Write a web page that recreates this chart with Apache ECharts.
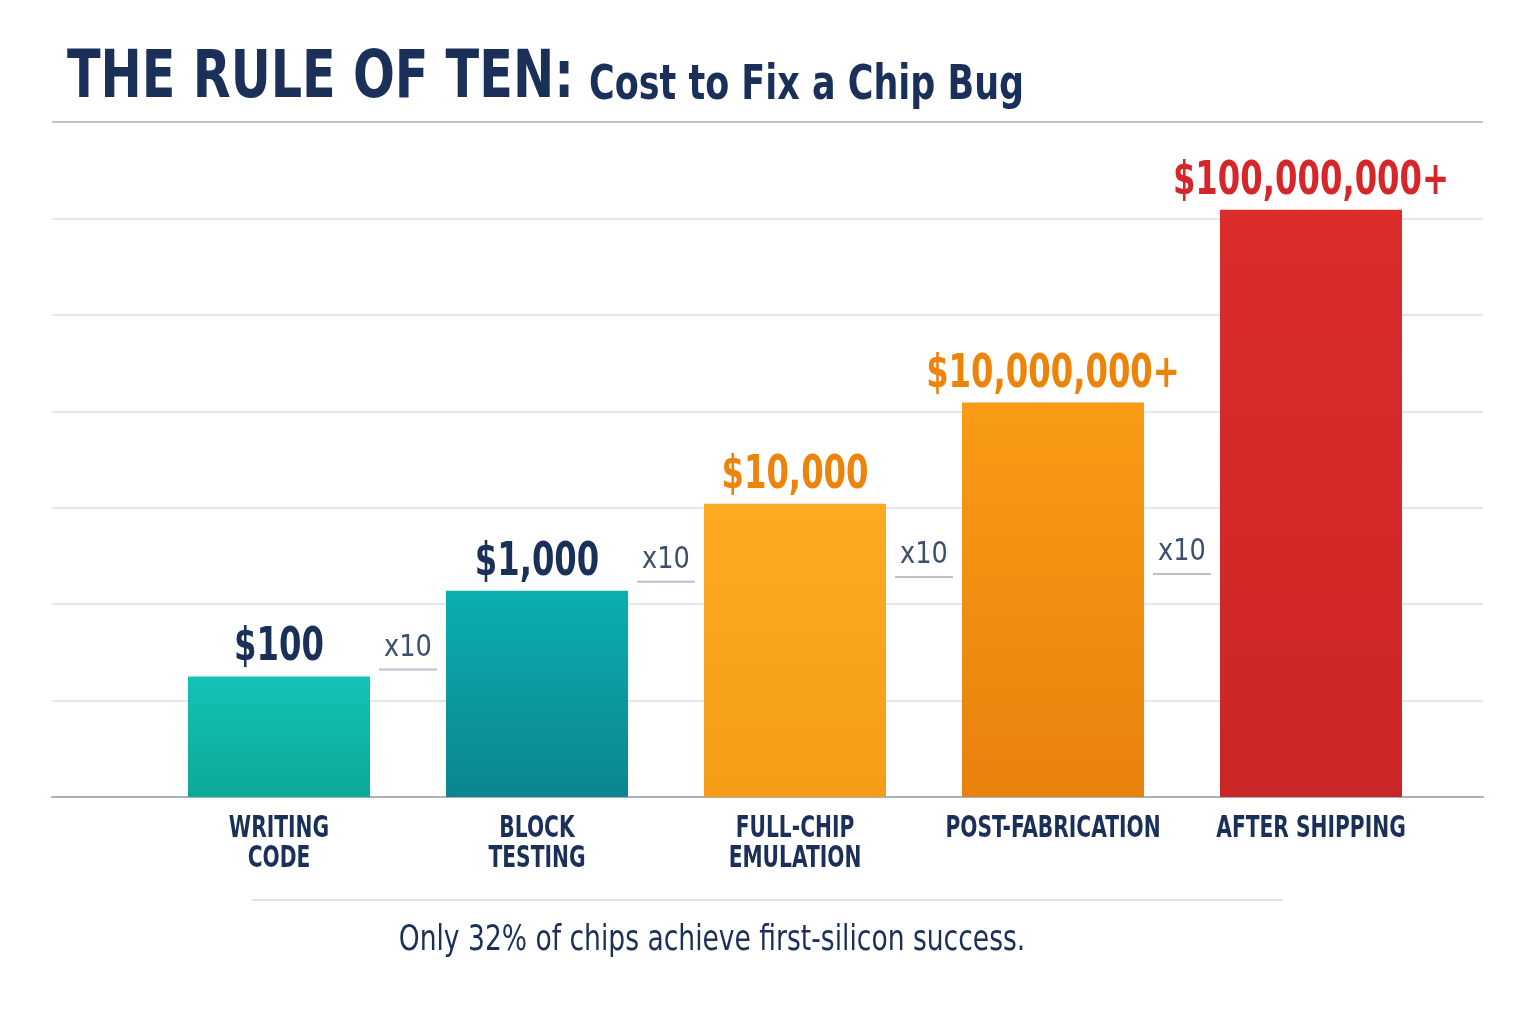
<!DOCTYPE html>
<html>
<head>
<meta charset="utf-8">
<script src="https://cdn.jsdelivr.net/npm/echarts@6/dist/echarts.min.js"></script>
<style>
  html, body { margin: 0; padding: 0; background: #fff; }
  #main { width: 1536px; height: 1024px; }
</style>
</head>
<body>
<div id="main"></div>
<script>
// stages of the chip flow
var categories = ['WRITING\nCODE', 'BLOCK\nTESTING', 'FULL-CHIP\nEMULATION', 'POST-FABRICATION', 'AFTER SHIPPING'];
// bar height in grid steps (visual scale)
var barLevels = [1.25, 2.14, 3.04, 4.09, 6.09];
var costLabels = ['$100', '$1,000', '$10,000', '$10,000,000+', '$100,000,000+'];
// "x10" markers between neighbouring bars, height in grid steps
var stepLabels = ['x10', 'x10', 'x10', 'x10'];
var stepLevels = [1.55, 2.46, 2.51, 2.54];
var yTicks = [0, 1, 2, 3, 4, 5, 6, 7];

var FONT = '"DejaVu Sans Condensed", "Liberation Sans Narrow", "Roboto", sans-serif';
var NAVY = '#1a3059';

var barColors = [
    ['#12c3b5', '#0ca898'],
    ['#0aafae', '#0c8590'],
    ['#fdaa23', '#f59c16'],
    ['#f99b16', '#e8810c'],
    ['#dc2c2c', '#cb2626']
];
var labelColors = [NAVY, NAVY, '#ee8309', '#ee8309', '#d7262a'];

var chart = echarts.init(document.getElementById('main'));

var seriesData = barLevels.map(function(v, i) {
    return {
        value: v,
        itemStyle: {
            color: new echarts.graphic.LinearGradient(0, 0, 0, 1, [
                { offset: 0, color: barColors[i][0] },
                { offset: 1, color: barColors[i][1] }
            ])
        }
    };
});

var option = {
    backgroundColor: '#ffffff',
    animation: false,
    grid: [
        // full width grid, only for the horizontal rules
        { left: 52, right: 53, top: 122, bottom: 227 },
        // grid holding the bars
        { left: 150, right: 96, top: 122, bottom: 227 }
    ],
    xAxis: [
        {
            gridIndex: 0, type: 'category', data: categories,
            axisLine: { show: true, lineStyle: { color: '#a9b1bd', width: 2 } },
            axisTick: { show: false }, axisLabel: { show: false }
        },
        {
            // labels are drawn below as condensed graphic text
            gridIndex: 1, type: 'category', data: categories,
            axisLine: { show: false }, axisTick: { show: false }, axisLabel: { show: false }
        }
    ],
    yAxis: [
        {
            gridIndex: 0, type: 'value', min: yTicks[0], max: yTicks[yTicks.length - 1], interval: 1,
            axisLine: { show: false }, axisTick: { show: false }, axisLabel: { show: false },
            splitLine: {
                show: true,
                lineStyle: {
                    width: 1.5,
                    color: ['#a9b1bd', '#dcdfe5', '#dcdfe5', '#dcdfe5', '#dcdfe5', '#dcdfe5', '#dcdfe5', '#aab1bd']
                }
            }
        },
        {
            gridIndex: 1, type: 'value', min: yTicks[0], max: yTicks[yTicks.length - 1], interval: 1,
            show: false
        }
    ],
    series: [{
        type: 'bar',
        xAxisIndex: 1, yAxisIndex: 1,
        barWidth: 182,
        data: seriesData
    }]
};
chart.setOption(option);

// condensed text helper: the installed fonts are wider than the original
function squeezed(text, x, y, size, weight, color, sx, align, vAlign) {
    return {
        type: 'text', x: x, y: y, scaleX: sx, scaleY: 1,
        style: {
            text: text, x: 0, y: 0, align: align || 'left', verticalAlign: vAlign || 'middle',
            font: weight + ' ' + size + 'px ' + FONT, fill: color
        }
    };
}

var elements = [];
// title
elements.push(squeezed('THE RULE OF TEN:', 67, 113, 66, 'bold', NAVY, 0.83, 'left', 'bottom'));
elements.push(squeezed('Cost to Fix a Chip Bug', 589, 111, 48, 'bold', NAVY, 0.81, 'left', 'bottom'));

// cost labels over the bars, category names under them
for (var k = 0; k < costLabels.length; k++) {
    var p = chart.convertToPixel({ xAxisIndex: 1, yAxisIndex: 1 }, [k, barLevels[k]]);
    elements.push(squeezed(costLabels[k], p[0], p[1] - 5, 46, 'bold', labelColors[k], 0.78, 'center', 'bottom'));
    var base = chart.convertToPixel({ xAxisIndex: 1, yAxisIndex: 1 }, [k, yTicks[0]]);
    var lines = categories[k].split('\n');
    for (var j = 0; j < lines.length; j++) {
        elements.push(squeezed(lines[j], base[0], base[1] + 32 + j * 30, 30, 'bold', NAVY, 0.75, 'center', 'middle'));
    }
}

// x10 markers between bars
for (var i = 0; i < stepLabels.length; i++) {
    var a = chart.convertToPixel({ xAxisIndex: 1, yAxisIndex: 1 }, [i, stepLevels[i]]);
    var b = chart.convertToPixel({ xAxisIndex: 1, yAxisIndex: 1 }, [i + 1, stepLevels[i]]);
    var cx = (a[0] + b[0]) / 2, cy = a[1];
    elements.push(squeezed(stepLabels[i], cx, cy, 31, 'normal', '#3e4f6b', 0.92, 'center', 'middle'));
    elements.push({
        type: 'line',
        shape: { x1: cx - 29, y1: cy + 22, x2: cx + 29, y2: cy + 22 },
        style: { stroke: '#b9c1cd', lineWidth: 2 }
    });
}

// footer
elements.push({
    type: 'line',
    shape: { x1: 252, y1: 900, x2: 1283, y2: 900 },
    style: { stroke: '#e0e3e8', lineWidth: 2 }
});
elements.push(squeezed('Only 32% of chips achieve first-silicon success.', 712, 941, 36, 'normal', NAVY, 0.82, 'center', 'middle'));

chart.setOption({ graphic: elements });
</script>
</body>
</html>
